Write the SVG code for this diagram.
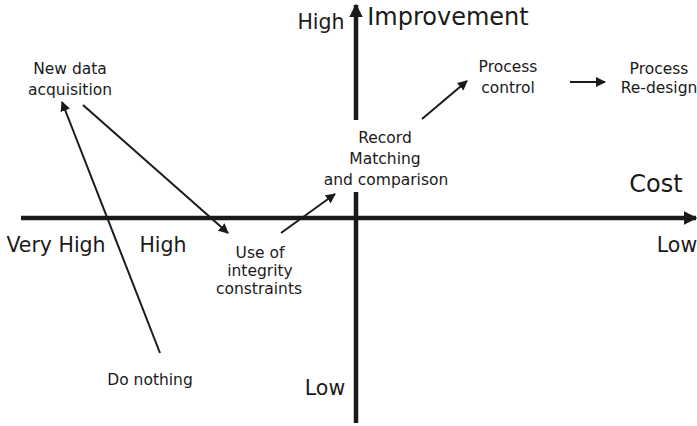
<svg xmlns="http://www.w3.org/2000/svg" width="697" height="426" viewBox="0 0 697 426">
<defs>
<marker id="ah" viewBox="0 0 10 10" refX="9" refY="5" markerWidth="5" markerHeight="5" orient="auto" markerUnits="strokeWidth">
<path d="M0,0 L10,5 L0,10 z" fill="#1a1a1a"/>
</marker>
<marker id="axh" viewBox="0 0 10 10" refX="9" refY="5" markerWidth="3" markerHeight="3" orient="auto" markerUnits="strokeWidth">
<path d="M0,0 L10,5 L0,10 z" fill="#1a1a1a"/>
</marker>
<style>
text{font-family:"Comic Sans MS","DejaVu Sans",sans-serif;fill:#1a1a1a;text-anchor:middle}
.s{font-size:15.5px}
.m{font-size:20.5px}
.l{font-size:24px}
.c{stroke:#1a1a1a;stroke-width:2;fill:none;marker-end:url(#ah)}
.ax{stroke:#1a1a1a;stroke-width:4.5;fill:none;marker-end:url(#axh)}
</style>
</defs>
<rect width="697" height="426" fill="#fff"/>
<g id="axes">
<line class="ax" x1="21" y1="218" x2="696" y2="218"/>
<line class="ax" x1="356" y1="423" x2="356" y2="5"/>
</g>
<g id="connectors">
<line class="c" x1="83" y1="105" x2="228" y2="233"/>
<line class="c" x1="160" y1="353" x2="62" y2="102"/>
<line class="c" x1="281" y1="233" x2="335" y2="194"/>
<line class="c" x1="422" y1="119" x2="467" y2="81"/>
<line class="c" x1="570" y1="82" x2="605" y2="82"/>
</g>
<g id="axis-labels">
<text class="m" x="321" y="29">High</text>
<text class="l" x="448" y="25">Improvement</text>
<text class="l" x="656" y="192">Cost</text>
<text class="m" x="56" y="252">Very High</text>
<text class="m" x="163" y="252">High</text>
<text class="m" x="677" y="252">Low</text>
<text class="m" x="325" y="395">Low</text>
</g>
<g id="node-new-data">
<text class="s" x="70" y="74">New data</text>
<text class="s" x="70" y="95">acquisition</text>
</g>
<g id="node-process-control">
<text class="s" x="508" y="72">Process</text>
<text class="s" x="508" y="93">control</text>
</g>
<g id="node-process-redesign">
<text class="s" x="659" y="74">Process</text>
<text class="s" x="659" y="93">Re-design</text>
</g>
<g id="node-record-matching">
<rect x="322" y="120" width="128" height="72" fill="#fff"/>
<text class="s" x="385" y="143">Record</text>
<text class="s" x="385" y="164">Matching</text>
<text class="s" x="386" y="185">and comparison</text>
</g>
<g id="node-integrity">
<text class="s" x="260" y="258">Use of</text>
<text class="s" x="260" y="276">integrity</text>
<text class="s" x="259" y="294">constraints</text>
</g>
<g id="node-do-nothing">
<text class="s" x="150" y="385">Do nothing</text>
</g>
</svg>
